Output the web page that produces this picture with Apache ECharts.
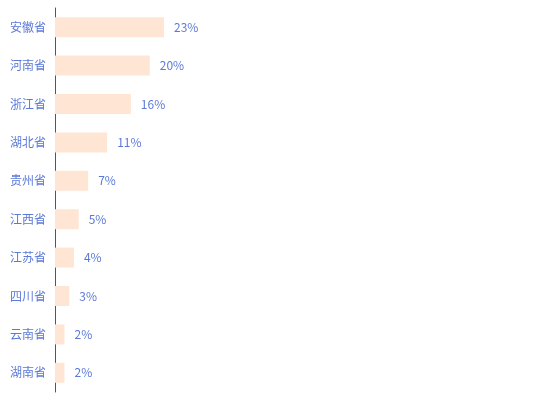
<!DOCTYPE html>
<html>
<head>
<meta charset="UTF-8">
<script src="https://cdn.jsdelivr.net/npm/echarts@6/dist/echarts.min.js"></script>
<style>
  html, body { margin: 0; padding: 0; background: #fff; }
  #chart { width: 550px; height: 420px; }
</style>
</head>
<body>
<div id="chart"></div>
<script>
const provinces = ["安徽省", "河南省", "浙江省", "湖北省", "贵州省", "江西省", "江苏省", "四川省", "云南省", "湖南省"];
const shares = [23, 20, 16, 11, 7, 5, 4, 3, 2, 2];

const chart = echarts.init(document.getElementById('chart'));
chart.setOption({
  animation: false,
  textStyle: { fontFamily: 'Noto Sans CJK SC, sans-serif' },
  grid: { left: 55, right: 21, top: 8, bottom: 28, containLabel: false },
  xAxis: {
    type: 'value',
    min: 0,
    max: 100,
    show: false
  },
  yAxis: {
    type: 'category',
    inverse: true,
    data: provinces,
    axisLine: { show: true, lineStyle: { color: '#555', width: 1 } },
    axisTick: { show: false },
    axisLabel: { color: '#5b7ad8', fontSize: 12, margin: 9 },
    splitLine: { show: false }
  },
  series: [{
    type: 'bar',
    data: shares,
    barWidth: 20,
    itemStyle: { color: '#ffe5d4' },
    label: {
      show: true,
      position: 'right',
      distance: 10,
      color: '#5b7ad8',
      fontSize: 12,
      formatter: p => p.value + '%'
    }
  }]
});
</script>
</body>
</html>
